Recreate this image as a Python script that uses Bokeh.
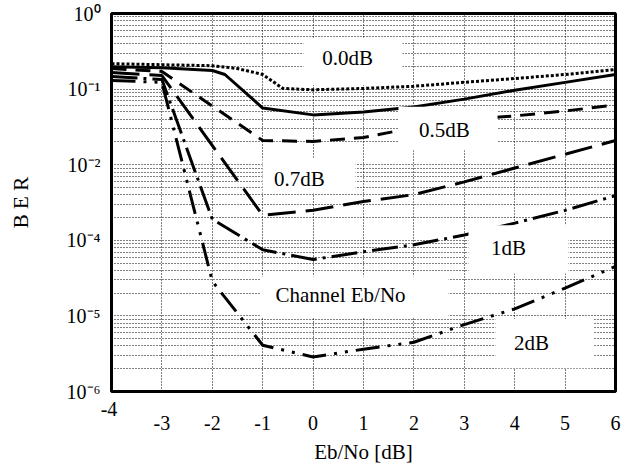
from bokeh.plotting import figure
from bokeh.models import (FixedTicker, CustomJSTickFormatter, BoxAnnotation, Label, Range1d,
                          LinearAxis)
from bokeh.embed import file_html
from bokeh.resources import INLINE

# ---------------- data ----------------
x_ticks = [-3, -2, -1, 0, 1, 2, 3, 4, 5, 6]
x_origin_tick = [-4]
y_tick_vals = [1e-5, 1e-4, 1e-3, 1e-2, 1e-1, 1.0]
y_tick_labels = ["10\u207b\u2076", "10\u207b\u2075", "10\u207b\u2074", "10\u207b\u00b2", "10\u207b\u00b9", "10\u2070"]

ebno_dotted = [-4, -3, -2, -1.5, -1, -0.6, 0, 1, 2, 3, 4, 5, 6]
ber_dotted = [0.217, 0.210, 0.204, 0.187, 0.156, 0.102, 0.098, 0.102, 0.109, 0.123, 0.138, 0.156, 0.181]

ebno_solid = [-4, -3, -2, -1.75, -1, 0, 1, 2, 3, 4, 5, 6]
ber_solid = [0.198, 0.192, 0.176, 0.156, 0.0562, 0.0456, 0.0499, 0.0579, 0.0737, 0.0965, 0.1227, 0.156]

ebno_05 = [-4, -3, -1, 0, 1, 2, 3, 4, 5, 6]
ber_05 = [0.187, 0.171, 0.0209, 0.0203, 0.0229, 0.0309, 0.0393, 0.0442, 0.0514, 0.0615]

ebno_07 = [-4, -3, -1, 0, 1, 2, 3, 4, 5, 6]
ber_07 = [0.1655, 0.1512, 0.00214, 0.00249, 0.00326, 0.00402, 0.00593, 0.00903, 0.01374, 0.0209]

ebno_1 = [-4, -3, -2, -1, 0, 1, 2, 3, 4, 5, 6]
ber_1 = [0.1468, 0.1341, 0.00190, 7.50e-4, 5.56e-4, 7.06e-4, 8.71e-4, 1.175e-3, 1.686e-3, 2.49e-3, 3.90e-3]

ebno_2 = [-4, -3, -2, -1, 0, 1, 2, 3, 4, 5, 6]
ber_2 = [0.1302, 0.1227, 2.87e-4, 4.09e-5, 2.86e-5, 3.63e-5, 4.48e-5, 7.68e-5, 1.24e-4, 2.33e-4, 4.51e-4]

label_texts = ["0.0dB", "0.5dB", "0.7dB", "1dB", "Channel Eb/No", "2dB"]

# ---------------- layout of annotations ----------------
label_pos = [(0.683, 0.247), (2.607, 0.02754), (-0.270, 0.00631), (3.877, 7.70e-4), (0.544, 1.82e-4), (4.333, 4.30e-5)]
box_pos = [  # left, right, top, bottom
    (-0.190, 1.774, 0.479, 0.1131),
    (1.694, 3.659, 0.0584, 0.01556),
    (-1.004, 0.841, 0.01224, 0.004145),
    (3.083, 5.067, 0.001585, 3.63e-4),
    (-1.044, 2.687, 3.32e-4, 9.4e-5),
    (3.619, 5.563, 9.12e-5, 2.03e-5),
]

FONT = "Liberation Serif"

p = figure(width=643, height=466, x_range=Range1d(-4, 6), y_range=Range1d(1e-5, 1.0),
           y_axis_type="log", output_backend="svg", toolbar_location=None,
           min_border_left=111, min_border_right=28, min_border_top=13, min_border_bottom=69)
p.background_fill_color = "white"
p.border_fill_color = "white"
p.outline_line_color = "black"
p.outline_line_width = 3

main_x = p.xaxis[0]
main_x.ticker = FixedTicker(ticks=x_ticks)
main_x.formatter = CustomJSTickFormatter(code="return tick.toString();")

# the origin label "-4" sits a little higher than the others: own axis nearest the frame
origin_axis = LinearAxis(ticker=FixedTicker(ticks=x_origin_tick),
                         formatter=CustomJSTickFormatter(code="return tick.toString() + ' ';"))
p.add_layout(origin_axis, "below")
p.below = [origin_axis, main_x]

minor = [m * d for d in y_tick_vals[:-1] for m in range(2, 10)]
p.yaxis.ticker = FixedTicker(ticks=y_tick_vals, minor_ticks=minor)
p.yaxis.formatter = CustomJSTickFormatter(args=dict(vals=y_tick_vals, labs=y_tick_labels), code="""
const i = vals.findIndex(v => Math.abs(Math.log10(v) - Math.log10(tick)) < 1e-6);
return i >= 0 ? labs[i] : "";
""")
for ax in (main_x, origin_axis, p.yaxis[0]):
    ax.axis_line_color = None
    ax.major_tick_line_color = None
    ax.minor_tick_line_color = None
    ax.major_tick_out = 0
    ax.minor_tick_out = 0
    ax.major_tick_in = 0
    ax.minor_tick_in = 0
    ax.major_label_text_font = FONT
    ax.major_label_text_font_size = "20px"
    ax.major_label_text_color = "black"
    ax.axis_label_text_font = FONT
    ax.axis_label_text_font_size = "21px"
    ax.axis_label_text_font_style = "normal"
    ax.axis_label_text_color = "black"

origin_axis.major_label_standoff = 6
main_x.axis_label = "Eb/No [dB]"
main_x.major_label_standoff = -7
main_x.axis_label_standoff = 7
p.yaxis.axis_label = "B E R"
p.yaxis.major_label_standoff = 11
p.yaxis.axis_label_standoff = 31

# grid
p.xgrid.grid_line_color = "black"
p.xgrid.grid_line_dash = "1 2"
p.xgrid.grid_line_width = 1
p.ygrid.grid_line_color = "black"
p.ygrid.grid_line_dash = "1 2"
p.ygrid.grid_line_width = 1
p.ygrid.minor_grid_line_color = "black"
p.ygrid.minor_grid_line_dash = "1 2"
p.ygrid.minor_grid_line_width = 1

# curves
p.line(ebno_dotted, ber_dotted, line_color="black", line_width=3, line_dash="3 2")
p.line(ebno_solid, ber_solid, line_color="black", line_width=3)
p.line(ebno_05, ber_05, line_color="black", line_width=3, line_dash="15 9")
p.line(ebno_07, ber_07, line_color="black", line_width=3, line_dash="28 10")
p.line(ebno_1, ber_1, line_color="black", line_width=3, line_dash="26 6 3 6")
p.line(ebno_2, ber_2, line_color="black", line_width=3, line_dash="24 8 3 8 3 8")

# white boxes behind the annotation texts
for (l, r, t, b) in box_pos:
    p.add_layout(BoxAnnotation(left=l, right=r, top=t, bottom=b, fill_color="white",
                               fill_alpha=1.0, line_color=None))
for txt, (lx, ly) in zip(label_texts, label_pos):
    p.add_layout(Label(x=lx, y=ly, text=txt, text_font=FONT, text_font_size="21px",
                       text_align="center", text_baseline="middle", text_color="black",
                       y_offset=1))

open("out.html", "w").write(file_html(p, INLINE))
